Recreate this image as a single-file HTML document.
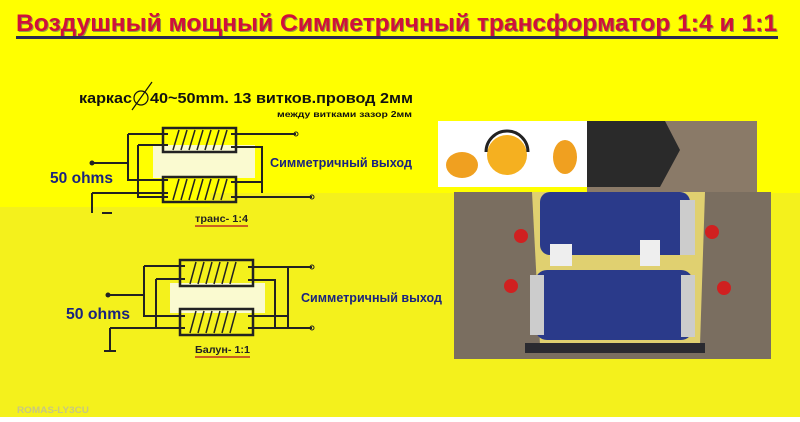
<!DOCTYPE html>
<html><head><meta charset="utf-8"><style>
body{margin:0;width:800px;height:417px;overflow:hidden;font-family:"Liberation Sans",sans-serif}
</style></head><body>
<svg width="800" height="417" viewBox="0 0 800 417" xmlns="http://www.w3.org/2000/svg" font-family="Liberation Sans, sans-serif">
<rect width="800" height="417" fill="#f4f11c"/>
<rect width="800" height="193" fill="#ffff00"/>
<rect x="0" y="193" width="210" height="14" fill="#ffff00"/>
<text x="17" y="32" font-size="24" font-weight="bold" fill="#1a2a7a" opacity="0.45" textLength="761" lengthAdjust="spacingAndGlyphs">Воздушный мощный Симметричный трансформатор 1:4 и 1:1</text>
<text x="16" y="31" font-size="24" font-weight="bold" fill="#d0103a" textLength="761" lengthAdjust="spacingAndGlyphs">Воздушный мощный Симметричный трансформатор 1:4 и 1:1</text>
<rect x="16" y="36" width="762" height="3" fill="#2a2a50"/>
<!-- top circuit -->
<text x="79" y="103" font-size="15" font-weight="bold" fill="#111" textLength="53" lengthAdjust="spacingAndGlyphs">каркас</text>
<circle cx="141" cy="98" r="7" fill="none" stroke="#111" stroke-width="1.2"/>
<line x1="132" y1="110" x2="152" y2="82" stroke="#111" stroke-width="1.2"/>
<text x="150" y="103" font-size="15" font-weight="bold" fill="#111" textLength="263" lengthAdjust="spacingAndGlyphs">40~50mm. 13 витков.провод 2мм</text>
<text x="277" y="117" font-size="8" font-weight="bold" fill="#111" textLength="135" lengthAdjust="spacingAndGlyphs">между витками зазор 2мм</text>
<rect x="153" y="145" width="102" height="33" fill="#fafad0"/>
<g fill="none" stroke="#222" stroke-width="2">
<rect x="163" y="128" width="73" height="24" stroke-width="2.5"/>
<rect x="163" y="177" width="73" height="25" stroke-width="2.5"/>
<path d="M128 134 H168 M128 134 V180 H168 M138 145 H168 M138 145 V197 H168 M231 134 H296 M231 147 H262 V193 M231 182 H262 M92 163 H128 M92 193 H168 M92 193 V213 M231 197 H312"/>
</g>
<g stroke="#222" stroke-width="1.5"><line x1="173" y1="150" x2="179" y2="130"/><line x1="181" y1="150" x2="187" y2="130"/><line x1="189" y1="150" x2="195" y2="130"/><line x1="197" y1="150" x2="203" y2="130"/><line x1="205" y1="150" x2="211" y2="130"/><line x1="213" y1="150" x2="219" y2="130"/><line x1="221" y1="150" x2="227" y2="130"/>
<line x1="173" y1="200" x2="179" y2="179"/><line x1="181" y1="200" x2="187" y2="179"/><line x1="189" y1="200" x2="195" y2="179"/><line x1="197" y1="200" x2="203" y2="179"/><line x1="205" y1="200" x2="211" y2="179"/><line x1="213" y1="200" x2="219" y2="179"/><line x1="221" y1="200" x2="227" y2="179"/></g>
<circle cx="92" cy="163" r="2.5" fill="#222"/><circle cx="296" cy="134" r="2" fill="none" stroke="#222"/><circle cx="312" cy="197" r="2" fill="none" stroke="#222"/>
<rect x="102" y="212" width="10" height="2" fill="#222"/>
<text x="270" y="167" font-size="13" font-weight="bold" fill="#1a237e" textLength="142" lengthAdjust="spacingAndGlyphs">Симметричный выход</text>
<text x="50" y="183" font-size="16" font-weight="bold" fill="#1a237e" textLength="63" lengthAdjust="spacingAndGlyphs">50 ohms</text>
<text x="195" y="222" font-size="10" font-weight="bold" fill="#222" textLength="53" lengthAdjust="spacingAndGlyphs">транс- 1:4</text>
<rect x="195" y="225" width="53" height="2" fill="#c86020"/>
<!-- bottom circuit -->
<rect x="170" y="283" width="95" height="30" fill="#fafad0"/>
<g fill="none" stroke="#222" stroke-width="2">
<rect x="180" y="260" width="73" height="26" stroke-width="2.5"/>
<rect x="180" y="309" width="73" height="26" stroke-width="2.5"/>
<path d="M144 266 H185 M144 266 V316 H185 M156 279 H185 M156 279 V328 M108 295 H144 M110 328 H185 M110 328 V350 M248 267 H312 M248 280 H275 V328 M248 316 H288 M288 267 V328 M248 328 H312"/>
</g>
<g stroke="#222" stroke-width="1.5"><line x1="190" y1="284" x2="196" y2="262"/><line x1="198" y1="284" x2="204" y2="262"/><line x1="206" y1="284" x2="212" y2="262"/><line x1="214" y1="284" x2="220" y2="262"/><line x1="222" y1="284" x2="228" y2="262"/><line x1="230" y1="284" x2="236" y2="262"/>
<line x1="190" y1="333" x2="196" y2="311"/><line x1="198" y1="333" x2="204" y2="311"/><line x1="206" y1="333" x2="212" y2="311"/><line x1="214" y1="333" x2="220" y2="311"/><line x1="222" y1="333" x2="228" y2="311"/><line x1="230" y1="333" x2="236" y2="311"/></g>
<circle cx="108" cy="295" r="2.5" fill="#222"/><circle cx="312" cy="267" r="2" fill="none" stroke="#222"/><circle cx="312" cy="328" r="2" fill="none" stroke="#222"/>
<rect x="104" y="350" width="12" height="2" fill="#222"/>
<text x="301" y="302" font-size="13" font-weight="bold" fill="#1a237e" textLength="141" lengthAdjust="spacingAndGlyphs">Симметричный выход</text>
<text x="66" y="319" font-size="16" font-weight="bold" fill="#1a237e" textLength="64" lengthAdjust="spacingAndGlyphs">50 ohms</text>
<text x="195" y="353" font-size="10" font-weight="bold" fill="#222" textLength="55" lengthAdjust="spacingAndGlyphs">Балун- 1:1</text>
<rect x="195" y="356" width="55" height="2" fill="#c86020"/>
<!-- emoji panel -->
<rect x="438" y="121" width="149" height="66" fill="#fff"/>
<rect x="587" y="121" width="170" height="71" fill="#8a7a68"/>
<path d="M587 121 H665 L680 150 L660 187 H587 Z" fill="#2a2a2a"/>
<ellipse cx="462" cy="165" rx="16" ry="13" fill="#f0a020"/>
<circle cx="507" cy="155" r="20" fill="#f5b020"/>
<path d="M486 152 A21 21 0 0 1 528 152" fill="none" stroke="#222" stroke-width="3"/>
<ellipse cx="565" cy="157" rx="12" ry="17" fill="#f0a020"/>
<!-- photo -->
<rect x="454" y="192" width="317" height="167" fill="#7a6e60"/>
<path d="M532 192 H705 L700 345 H540 Z" fill="#e0d070"/>
<rect x="525" y="343" width="180" height="10" fill="#2a2a30"/>
<rect x="540" y="192" width="150" height="63" rx="10" fill="#2a3a8a"/>
<rect x="535" y="270" width="158" height="70" rx="12" fill="#2a3a8a"/>
<rect x="680" y="200" width="15" height="55" fill="#ccc"/>
<rect x="530" y="275" width="14" height="60" fill="#ccc"/>
<rect x="681" y="275" width="14" height="62" fill="#ccc"/>
<circle cx="521" cy="236" r="7" fill="#d02020"/><circle cx="712" cy="232" r="7" fill="#d02020"/>
<circle cx="511" cy="286" r="7" fill="#d02020"/><circle cx="724" cy="288" r="7" fill="#d02020"/>
<rect x="550" y="244" width="22" height="22" fill="#eee"/><rect x="640" y="240" width="20" height="26" fill="#eee"/>
<text x="17" y="413" font-size="9" font-weight="bold" fill="#c8c880" textLength="72" lengthAdjust="spacingAndGlyphs">ROMAS-LY3CU</text>
</svg>
</body></html>
